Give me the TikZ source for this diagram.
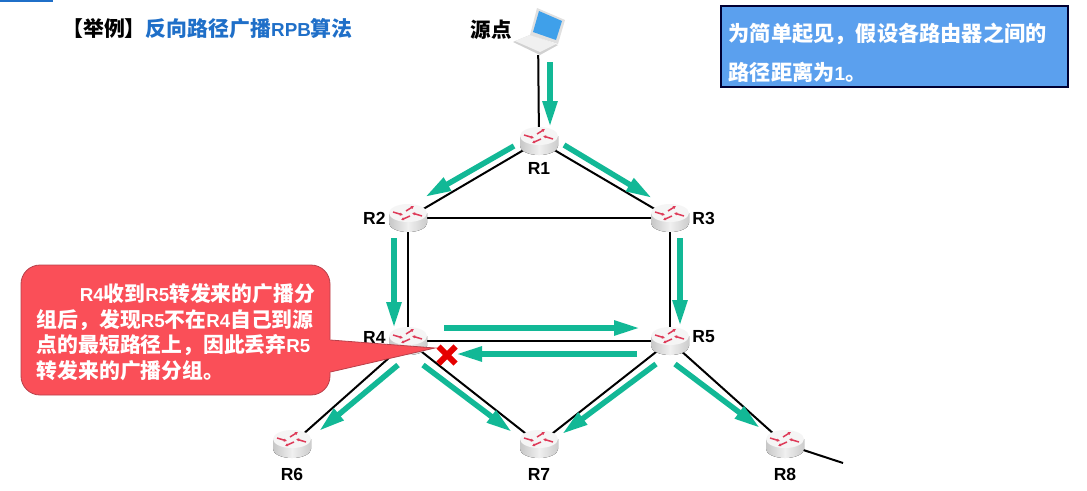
\documentclass[tikz,border=0pt]{standalone}
\usepackage{fontspec}
\setmainfont{Liberation Sans}
\newfontfamily\cjkfont{Noto Sans CJK SC}
\newfontfamily\latfont[Scale=0.9]{Liberation Sans}
\usepackage{tikz}
\usetikzlibrary{positioning,calc,arrows.meta,shapes.geometric,shapes.misc}

\definecolor{flowgreen}{HTML}{12B896}
\definecolor{titleblue}{HTML}{1F6FC8}
\definecolor{infoblue}{HTML}{5BA0EE}
\definecolor{notered}{HTML}{FA4F58}
\definecolor{noteedge}{HTML}{B8404A}
\definecolor{routerred}{HTML}{DE3A58}
\definecolor{screenblue}{HTML}{3FA0EA}

\newcommand{\rtext}[1]{{\latfont #1}}

\tikzset{
    routernode/.style={ellipse, minimum width=38pt, minimum height=28pt, inner sep=0pt},
    routerlabel/.style={font=\fontsize{17.5}{17.5}\selectfont\bfseries, inner sep=0pt},
    wire/.style={draw=black, line width=2pt},
    flowarrow/.style={draw=flowgreen, line width=5.5pt, -{Triangle[length=26pt,width=14pt]}},
    routericon/.pic={
        \fill[left color=black!22, right color=black!20, middle color=black!6]
            (-19,-5) -- (-19,5) arc[start angle=180, end angle=360, x radius=19pt, y radius=9pt] -- (19,-5) -- cycle;
        \fill[black!4] (0,-5) ellipse [x radius=19pt, y radius=9pt];
        \draw[routerred, line width=1.5pt, -{Latex[length=3pt,width=3.5pt]}] (-15,-6) -- (-5,-3);
        \draw[routerred, line width=1.5pt, -{Latex[length=3pt,width=3.5pt]}] (14,-2) -- (4,-5);
        \draw[routerred, line width=1.5pt, -{Latex[length=3pt,width=3.5pt]}] (-2,-7) -- (6,-12);
        \draw[routerred, line width=1.5pt, -{Latex[length=3pt,width=3.5pt]}] (2,-2) -- (-7,2);
    }
}

\begin{document}
\begin{tikzpicture}[
        x=1pt, y=-1pt,
        on grid,
        every label/.style={routerlabel}
    ]
        \useasboundingbox (0,0) rectangle (1087,490);

        % Nodes
        \node (src) [minimum width=50pt, minimum height=46pt, inner sep=0pt] at (538,32) {};
        \node (srclabel) [font=\cjkfont\bfseries\fontsize{20.5}{20.5}\selectfont, inner sep=0pt] at (491,30) {源点};
        \node (r1) [routernode, label={[label distance=7pt]below:R1}] at (539,141) {};
        \node (r2) [routernode, below left=77pt and 131pt of r1, label={[label distance=3pt]left:R2}] {};
        \node (r3) [routernode, below right=77pt and 131pt of r1, label={[label distance=3pt]right:R3}] {};
        \node (r4) [routernode, below=123pt of r2, label={[label distance=3pt,yshift=4pt]left:R4}] {};
        \node (r5) [routernode, below=123pt of r3, label={[label distance=3pt,yshift=4pt]right:R5}] {};
        \node (r6) [routernode, below left=103pt and 116pt of r4, label={[label distance=10pt]below:R6}] {};
        \node (r7) [routernode, below right=103pt and 131pt of r4, label={[label distance=10pt]below:R7}] {};
        \node (r8) [routernode, below right=103pt and 115pt of r5, label={[label distance=10pt]below:R8}] {};
        \coordinate (stub) at (843,463);
        \coordinate (tip) at ([shift={(27,7)}]r4.center);

        % Wires
        \draw[wire] (src) -- (r1);
        \draw[wire] (r1) -- (r2);
        \draw[wire] (r1) -- (r3);
        \draw[wire] (r2) -- (r3);
        \draw[wire] (r2) -- (r4);
        \draw[wire] (r3) -- (r5);
        \draw[wire] (r4) -- (r5);
        \draw[wire] (r4) -- (r6);
        \draw[wire] (r4) -- (r7);
        \draw[wire] (r5) -- (r7);
        \draw[wire] (r5) -- (r8);
        \draw[wire] (r8) -- (stub);

        % Flow arrows
        \draw[flowarrow] ([shift={(12,30)}]src.center) -- ([shift={(11,-14)}]r1.center);
        \draw[flowarrow] ([shift={(-25,5)}]r1.center) -- ([shift={(17,-21)}]r2.center);
        \draw[flowarrow] ([shift={(25,4)}]r1.center) -- ([shift={(-18,-20)}]r3.center);
        \draw[flowarrow] ([shift={(-14,20)}]r2.center) -- ([shift={(-14,-13)}]r4.center);
        \draw[flowarrow] ([shift={(10,20)}]r3.center) -- ([shift={(10,-15)}]r5.center);
        \draw[flowarrow] ([shift={(36,-13)}]r4.center) -- ([shift={(-30,-13)}]r5.center);
        \draw[flowarrow] ([shift={(-33,13)}]r5.center) -- ([shift={(48,13)}]r4.center);
        \draw[flowarrow] ([shift={(-10,24)}]r4.center) -- ([shift={(27,-13)}]r6.center);
        \draw[flowarrow] ([shift={(15,24)}]r4.center) -- ([shift={(-27,-12)}]r7.center);
        \draw[flowarrow] ([shift={(-14,23)}]r5.center) -- ([shift={(23,-10)}]r7.center);
        \draw[flowarrow] ([shift={(5,23)}]r5.center) -- ([shift={(-25,-16)}]r8.center);

        % Router icons
        \foreach \rname in {r1,r2,r3,r4,r5,r6,r7,r8}
            \pic at (\rname) {routericon};

        % Laptop
        \fill[black!18] (513,42) -- (530,35) -- (558,45) -- (540,55) -- cycle;
        \fill[black!6] (515,41) -- (530,35) -- (556,44) -- (540,52) -- cycle;
        \fill[black!12] (537,8) -- (565,20) -- (558,44) -- (530,35) -- cycle;
        \fill[screenblue] (539,11) -- (562,21) -- (556,40) -- (533,32) -- cycle;

        % Drop mark
        \node (drop) [cross out, draw=red!90!black, line width=6pt, minimum width=11pt, minimum height=11pt, inner sep=0pt] at (447,355) {};

        % Callout
        \node (note) [fill=notered, draw=noteedge, line width=0.8pt, rounded corners=19pt, minimum width=309pt, minimum height=130pt] at (175.5,330) {};
        \fill[notered] (note.east |- 0,340) -- (tip) -- (note.east |- 0,372) -- ([xshift=-2pt]note.east |- 0,372) -- ([xshift=-2pt]note.east |- 0,340) -- cycle;
        \draw[noteedge, line width=0.8pt] (note.east |- 0,340) -- (tip) -- (note.east |- 0,372);
        \node (notetext) [anchor=west, text=white, align=left, inner sep=0pt, font=\cjkfont\bfseries\fontsize{20.8}{25.5}\selectfont] at ([shift={(16,2)}]note.west)
            {\hspace{43pt}\rtext{R4}收到\rtext{R5}转发来的广播分\\组后，发现\rtext{R5}不在\rtext{R4}自己到源\\点的最短路径上，因此丢弃\rtext{R5}\\转发来的广播分组。};

        % Title and info box
        \fill[titleblue] (0,0) rectangle (53,2);
        \node (title) [anchor=west, inner sep=0pt, font=\cjkfont\bfseries\fontsize{20.9}{20.9}\selectfont] at (62,29)
            {【举例】\textcolor{titleblue}{反向路径广播\rtext{RPB}算法}};
        \node (info) [fill=infoblue, draw=black!80!blue, line width=1.2pt, minimum width=347pt, minimum height=81pt] at (894.5,46.5) {};
        \node (infotext) [anchor=west, text=white, align=left, inner sep=0pt, font=\cjkfont\bfseries\fontsize{21.2}{39}\selectfont] at ([shift={(8,6)}]info.west)
            {为简单起见，假设各路由器之间的\\路径距离为\rtext{1}。};
\end{tikzpicture}
\end{document}
